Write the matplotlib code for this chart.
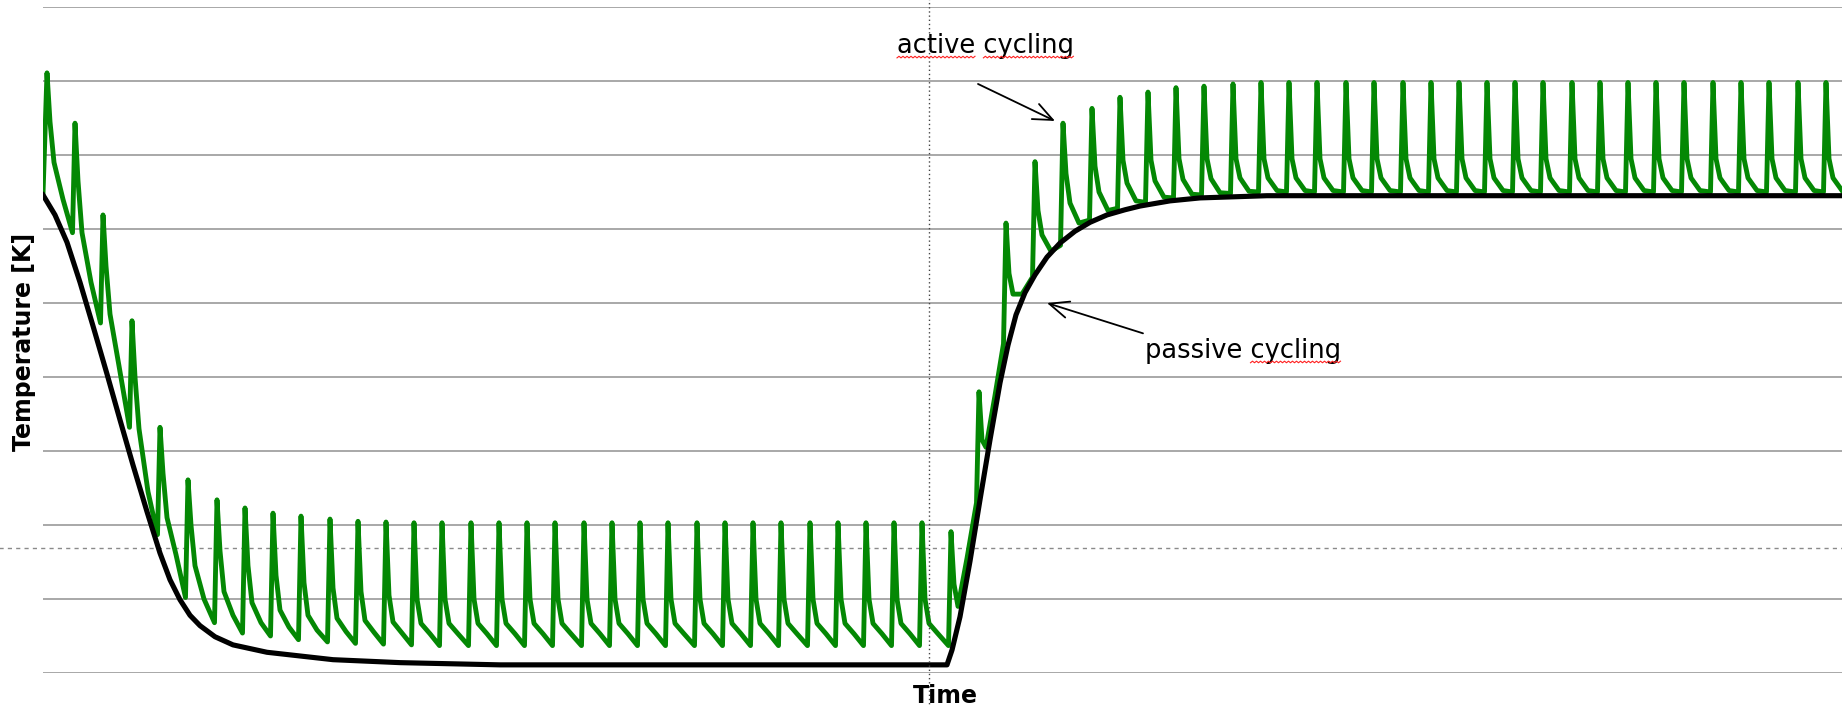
#!/usr/bin/env python3
"""
Passive vs active thermal cycling sketch (temperature over time).

Values are read off the reference picture: time in arbitrary units,
temperature in grid steps (no tick labels on either axis).
"""

import matplotlib
matplotlib.use("Agg")
import matplotlib.pyplot as plt
import numpy as np
from matplotlib.lines import Line2D
from matplotlib.transforms import IdentityTransform

# ---------- passive cycling (black) ----------
BLACK_T = [43, 55, 67, 80, 93, 107, 120, 133, 147, 160, 170, 180, 190, 200,
           215, 233, 267, 300, 333, 400, 500, 947, 952, 960, 970, 980, 990,
           1000, 1008, 1016, 1025, 1035, 1047, 1060, 1075, 1090, 1107, 1125,
           1140, 1170, 1200, 1267, 1842]
BLACK_V = [6.46, 6.19, 5.82, 5.28, 4.69, 4.04, 3.42, 2.81, 2.18, 1.62, 1.26,
           0.99, 0.78, 0.64, 0.49, 0.38, 0.28, 0.23, 0.18, 0.14, 0.11, 0.11,
           0.31, 0.76, 1.51, 2.34, 3.15, 3.92, 4.43, 4.84, 5.14, 5.38, 5.62,
           5.81, 5.97, 6.09, 6.19, 6.26, 6.31, 6.38, 6.42, 6.45, 6.45]

# ---------- active cycling (green), one entry per power pulse ----------
GREEN_START_T = 43
GREEN_START_V = 6.47

PEAK_T = [47, 75, 103, 132, 160, 188, 217, 245, 273, 301, 330, 358, 386, 414,
          442, 471, 499, 527, 555, 584, 612, 640, 668, 697, 725, 753, 781, 810,
          838, 866, 894, 922, 951, 979, 1006, 1035, 1063, 1092, 1120, 1148,
          1176, 1204, 1233, 1261, 1289, 1317, 1346, 1374, 1403, 1431, 1459,
          1487, 1515, 1543, 1572, 1600, 1628, 1656, 1684, 1713, 1741, 1769,
          1798, 1826]

PEAK_V = ([8.11, 7.43, 6.19, 4.76, 3.32, 2.61, 2.34, 2.23, 2.16, 2.12, 2.08,
           2.05, 2.04]
          + [2.03] * 19
          + [1.91, 3.80, 6.08, 6.91, 7.43, 7.63, 7.78, 7.85, 7.91, 7.93, 7.96]
          + [7.98] * 21)
# value shortly after the peak
KNEE_V = ([7.45, 6.65, 5.5, 4.0, 2.7, 2.0, 1.65, 1.45, 1.32, 1.22, 1.15,
           1.1, 1.05]
          + [1.0] * 19
          + [1.2, 3.15, 5.4, 6.25, 6.75, 6.85, 6.93, 6.93, 6.95, 6.95, 6.95]
          + [6.95] * 21)
MID_V = ([6.9, 5.95, 4.85, 3.3, 2.1, 1.45, 1.1, 0.95, 0.85, 0.78, 0.74,
          0.71, 0.69]
         + [0.67] * 19
         + [0.9, 3.05, 5.12, 5.92, 6.35, 6.5, 6.62, 6.65, 6.67, 6.68, 6.69]
         + [6.69] * 21)
LOW_V = ([6.4, 5.28, 4.15, 2.45, 1.6, 1.0, 0.78, 0.68, 0.62, 0.58, 0.56,
          0.55, 0.54]
         + [0.53] * 19
         + [1.55, 3.75, 5.12, 5.7, 6.08, 6.25, 6.38, 6.43, 6.47, 6.49, 6.51]
         + [6.52] * 21)
# value just before the next pulse starts (63 entries)
PRE_V = ([5.95, 4.73, 3.32, 1.87, 1.02, 0.68, 0.54, 0.50, 0.45, 0.42, 0.40,
          0.39, 0.38]
         + [0.37] * 19
         + [2.3, 4.45, 5.35, 5.78, 6.12, 6.28, 6.36, 6.42, 6.46, 6.48, 6.50]
         + [6.50] * 20)

CURSOR_T = 929
CURSOR_V = 1.69

GREEN = "#048804"
GRID = "#a8a8a8"


def green_path():
    xs, ys = [GREEN_START_T], [GREEN_START_V]
    for k, t in enumerate(PEAK_T):
        if k > 0:
            xs.append(t - 2.5)
            ys.append(PRE_V[k - 1])
        xs += [t, t + 3, t + 7, t + 16]
        ys += [PEAK_V[k], KNEE_V[k], MID_V[k], LOW_V[k]]
    return xs, ys


def squiggle(fig, x0, x1, y):
    # spell-check style wavy underline, in pixels
    xs = np.arange(x0, x1, 2.0)
    ys = y + np.where(np.arange(len(xs)) % 2 == 0, 0.0, 1.6)
    fig.add_artist(Line2D(xs, ys, transform=IdentityTransform(),
                          color="#ff2020", lw=0.8))


def text_width(ax, s, renderer, **kw):
    tmp = ax.text(0, 0, s, **kw)
    w = tmp.get_window_extent(renderer).width
    tmp.remove()
    return w


def main():
    W, H = 1842, 707
    fig = plt.figure(figsize=(W / 100, H / 100), dpi=100)
    ax = fig.add_axes([43 / W, 34 / H, 1 - 43 / W, 666 / H])

    ax.set_xlim(43, 1842)
    ax.set_ylim(0, 9)
    ax.set_yticks(range(10))
    ax.set_xticks([])
    ax.tick_params(left=False, labelleft=False)
    ax.grid(True, axis="y", color=GRID, lw=1.4)
    ax.set_axisbelow(True)
    for s in ax.spines.values():
        s.set_visible(False)

    gx, gy = green_path()
    ax.plot(gx, gy, color=GREEN, lw=3.5, zorder=2, solid_joinstyle="round")
    ax.plot(BLACK_T, BLACK_V, color="black", lw=3.7, zorder=3,
            solid_joinstyle="round")

    # cursor crosshair
    ax.axvline(CURSOR_T, ymin=-0.06, ymax=1.02, clip_on=False,
               color="#444444", lw=1.0, ls=(0, (1, 2)), zorder=4)
    ax.axhline(CURSOR_V, xmin=-0.03, xmax=1, clip_on=False,
               color="#8a8a8a", lw=1.0, ls=(0, (3, 3)), zorder=1)

    # labels
    fig.text(24 / W, 1 - 342 / H, "Temperature [K]", rotation=90,
             ha="center", va="center", fontsize=17, fontweight="bold")
    fig.text(945 / W, 4 / H, "Time", ha="center", va="baseline",
             fontsize=17, fontweight="bold")

    akw = dict(fontsize=18.5, va="baseline", ha="left")
    t_act = ax.text(897, 8.38, "active cycling", **akw)
    t_pas = ax.text(1145, 4.26, "passive cycling", **akw)

    arrow = dict(arrowstyle="->,head_length=0.7,head_width=0.3", lw=1.3,
                 color="black", shrinkA=0, shrinkB=0, mutation_scale=20)
    ax.annotate("", xy=(1055, 7.46), xytext=(978, 7.96), arrowprops=arrow)
    ax.annotate("", xy=(1047, 5.00), xytext=(1143, 4.59), arrowprops=arrow)

    # wavy underlines under the "misspelled" words
    fig.canvas.draw()
    r = fig.canvas.get_renderer()
    for txt, words in ((t_act, ["active", "cycling"]), (t_pas, ["cycling"])):
        bb = txt.get_window_extent(r)
        base = ax.transData.transform(txt.get_position())[1] - 5
        if "active" in words:
            w = text_width(ax, "active", r, **akw)
            squiggle(fig, bb.x0, bb.x0 + w, base)
        w = text_width(ax, "cycling", r, **akw)
        squiggle(fig, bb.x1 - w, bb.x1, base)

    fig.savefig("out.png", dpi=100)
    plt.close(fig)


if __name__ == "__main__":
    main()
